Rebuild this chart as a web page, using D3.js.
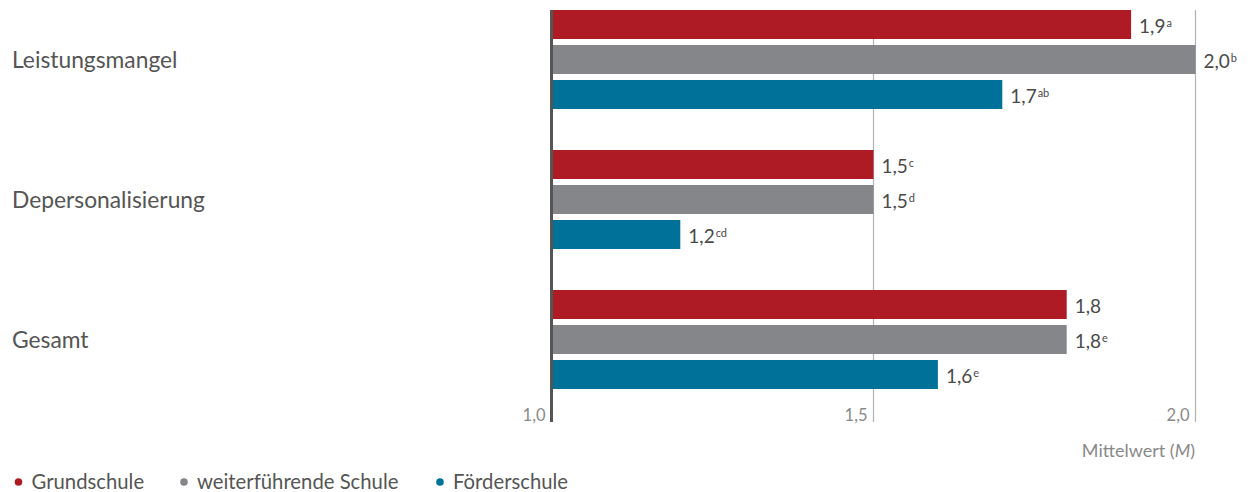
<!DOCTYPE html>
<html>
<head>
<meta charset="utf-8">
<script src="https://cdn.jsdelivr.net/npm/d3@7"></script>
<style>
  html, body { margin: 0; padding: 0; background: #fff; }
  svg { display: block; font-family: Lato, "Open Sans", sans-serif; }
</style>
</head>
<body>
<svg id="chart" width="1249" height="492"></svg>
<script>
// Dimensions of burnout scores by school type
const categories = ["Leistungsmangel", "Depersonalisierung", "Gesamt"];
const seriesNames = ["Grundschule", "weiterführende Schule", "Förderschule"];
const grundschule = [1.9, 1.5, 1.8];
const weiterfuehrende = [2.0, 1.5, 1.8];
const foerderschule = [1.7, 1.2, 1.6];
// superscript letters marking significant group differences
const supGrundschule = ["a", "c", ""];
const supWeiterfuehrende = ["b", "d", "e"];
const supFoerderschule = ["ab", "cd", "e"];
const xTicks = [1.0, 1.5, 2.0];
const colors = ["#AF1B24", "#858689", "#00729A"];

const seriesValues = [grundschule, weiterfuehrende, foerderschule];
const seriesSups = [supGrundschule, supWeiterfuehrende, supFoerderschule];

const rows = [];
categories.forEach((c, ci) => {
  seriesNames.forEach((s, si) => {
    rows.push({ cat: c, series: s, value: seriesValues[si][ci], sup: seriesSups[si][ci], color: colors[si] });
  });
});

const svg = d3.select("#chart");
const fmt = v => d3.format(".1f")(v).replace(".", ",");

const x = d3.scaleLinear().domain([1.0, 2.0]).range([551.5, 1195.5]);
const y0 = d3.scaleBand().domain(categories).range([10, 389]).paddingInner(41 / 140).paddingOuter(0);
const y1 = d3.scaleBand().domain(seriesNames).range([0, y0.bandwidth()]).paddingInner(6 / 35).paddingOuter(0);

const plotTop = 10, plotBottom = 422;

// gridlines at the tick positions (the baseline is drawn separately)
svg.append("g").selectAll("line")
  .data(xTicks.filter(t => t > 1.0))
  .join("line")
  .attr("x1", d => x(d)).attr("x2", d => x(d))
  .attr("y1", plotTop).attr("y2", plotBottom)
  .attr("stroke", "#b3b3b3").attr("stroke-width", 1.2);

// tick labels to the left of each line
svg.append("g").selectAll("text")
  .data(xTicks)
  .join("text")
  .attr("x", d => x(d) - 6)
  .attr("y", 421)
  .attr("text-anchor", "end")
  .attr("font-size", 16.5)
  .attr("fill", "#8a8a8a")
  .text(d => fmt(d));

// bars
const bars = svg.append("g");
bars.selectAll("rect")
  .data(rows)
  .join("rect")
  .attr("x", x(1.0))
  .attr("y", d => y0(d.cat) + y1(d.series))
  .attr("width", d => x(d.value) - x(1.0))
  .attr("height", y1.bandwidth())
  .attr("fill", d => d.color);

// value labels with superscripts
const labels = svg.append("g").selectAll("text")
  .data(rows)
  .join("text")
  .attr("x", d => x(d.value) + 8)
  .attr("y", d => y0(d.cat) + y1(d.series) + y1.bandwidth() / 2 + 8.5)
  .attr("font-size", 19)
  .attr("fill", "#4a4a4a");
labels.append("tspan").text(d => fmt(d.value));
labels.append("tspan")
  .attr("dx", 1)
  .attr("dy", -6)
  .attr("font-size", 11)
  .text(d => d.sup);

// category labels
svg.append("g").selectAll("text")
  .data(categories)
  .join("text")
  .attr("x", 12)
  .attr("y", d => y0(d) + y0.bandwidth() / 2 + 8)
  .attr("font-size", 22.8)
  .attr("fill", "#555")
  .text(d => d);

// baseline at 1,0
svg.append("line")
  .attr("x1", x(1.0)).attr("x2", x(1.0))
  .attr("y1", plotTop).attr("y2", plotBottom)
  .attr("stroke", "#555").attr("stroke-width", 3);

// axis title
const title = svg.append("text")
  .attr("x", 1195)
  .attr("y", 457)
  .attr("text-anchor", "end")
  .attr("font-size", 18)
  .attr("fill", "#8a8a8a");
title.append("tspan").text("Mittelwert (");
title.append("tspan").attr("font-style", "italic").text("M");
title.append("tspan").text(")");

// legend
const legendX = [18.5, 184, 440];
const legend = svg.append("g").selectAll("g")
  .data(seriesNames)
  .join("g")
  .attr("transform", (d, i) => `translate(${legendX[i]},482)`);
legend.append("circle").attr("r", 3.8).attr("fill", (d, i) => colors[i]);
legend.append("text")
  .attr("x", 13)
  .attr("y", 6.5)
  .attr("font-size", 20.3)
  .attr("fill", "#555")
  .text(d => d);
</script>
</body>
</html>
